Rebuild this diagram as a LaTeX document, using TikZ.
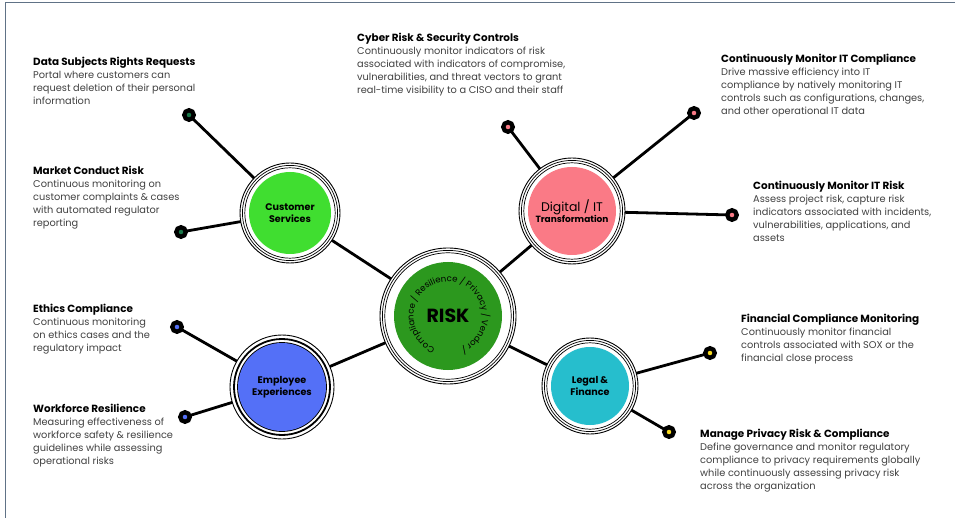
\documentclass[tikz,border=0pt]{standalone}
\usepackage{fontspec}
\setmainfont{Poppins}
\usepackage{tkz-graph}
\usetikzlibrary{decorations.text}

\definecolor{riskgreen}{RGB}{44,152,30}
\definecolor{custgreen}{RGB}{64,222,48}
\definecolor{itpink}{RGB}{250,122,134}
\definecolor{emplblue}{RGB}{84,112,247}
\definecolor{legalteal}{RGB}{38,190,205}
\definecolor{dotgreen}{RGB}{24,118,72}
\definecolor{dotyellow}{RGB}{248,218,30}
\definecolor{bodygray}{RGB}{64,64,64}
\definecolor{framecol}{RGB}{96,114,134}

\newcommand\infohead[1]{{\bfseries\fontsize{10.4}{13}\selectfont\color{black}#1}}

\begin{document}
\begin{tikzpicture}[x=1pt,y=-1pt]
\useasboundingbox (0,0) rectangle (955,518);
\draw[framecol, line width=0.8pt] (5,518) -- (5,2) -- (955,2);

\SetUpEdge[lw=2.8pt,color=black]
\tikzset{ringw/.initial=0.7pt,
	ringgap/.initial=2.4pt,
	VertexStyle/.style =
	{shape = circle,
		inner sep = 0pt,
		text = black},
	hub/.style n args={3}{fill=white, draw=black, line width=0.9pt,
		minimum size=2*#2pt, align=center,
		font=\bfseries\fontsize{9.6}{11.5}\selectfont,
		path picture={
			\draw[line width=\pgfkeysvalueof{/tikz/ringw}] (path picture bounding box.center)
				circle[radius=#2pt-\pgfkeysvalueof{/tikz/ringgap}];
			\draw[line width=\pgfkeysvalueof{/tikz/ringw}] (path picture bounding box.center)
				circle[radius=#2pt-2*\pgfkeysvalueof{/tikz/ringgap}];
			\fill[#1] (path picture bounding box.center) circle[radius=#3pt];}},
	dot/.style={fill=#1, draw=black, line width=4.3pt, minimum size=9.5pt},
	info/.style={anchor=north west, align=left, inner sep=0pt,
		font=\fontsize{9.8}{13}\selectfont, text=bodygray}}
\tikzset{EdgeStyle/.style={line width=2.8pt, black}}

% hubs
\Vertex[x=448,y=316,L={\fontsize{19}{20}\selectfont RISK},style={hub={riskgreen}{68}{54}}]{Risk}
\Vertex[x=290,y=213,L={Customer\\Services},style={hub={custgreen}{50}{41}}]{Cust}
\Vertex[x=572,y=211,L={{\mdseries\fontsize{12.5}{14}\selectfont Digital / IT}\\{\fontsize{9}{11}\selectfont Transformation}},style={hub={itpink}{53}{44}}]{Digi}
\Vertex[x=282,y=387,L={Employee\\Experiences},style={line width=1.8pt, ringw=1.8pt, ringgap=4pt, hub={emplblue}{52}{44}}]{Empl}
\Vertex[x=590,y=386,L={Legal \&\\Finance},style={hub={legalteal}{48}{39}}]{Legal}

% dots
\Vertex[x=189,y=115,NoLabel,style={dot=dotgreen}]{dsrDot}
\Vertex[x=181,y=232,NoLabel,style={dot=dotgreen}]{mcrDot}
\Vertex[x=508,y=127,NoLabel,style={dot=itpink}]{cyberDot}
\Vertex[x=694,y=113,NoLabel,style={dot=itpink}]{itcDot}
\Vertex[x=732,y=215,NoLabel,style={dot=itpink}]{itrDot}
\Vertex[x=177,y=327,NoLabel,style={dot=emplblue}]{ethDot}
\Vertex[x=185,y=417,NoLabel,style={dot=emplblue}]{wfDot}
\Vertex[x=710,y=353,NoLabel,style={dot=dotyellow}]{finDot}
\Vertex[x=669,y=432,NoLabel,style={dot=dotyellow}]{privDot}

\Edges(Risk,Cust,dsrDot)
\Edges(Cust,mcrDot)
\Edges(Risk,Digi,cyberDot)
\Edges(Digi,itcDot)
\Edges(Digi,itrDot)
\Edges(Risk,Empl,ethDot)
\Edges(Empl,wfDot)
\Edges(Risk,Legal,finDot)
\Edges(Legal,privDot)

\path[decorate, decoration={text along path, text align=center,
	text={|\fontsize{8.6}{9}\selectfont|Compliance / Resilience / Privacy / Vendor /}}]
	([shift={(262:34.5pt)}]Risk.center) arc[start angle=262, end angle=-82, radius=34.5pt];

% text blocks
\node[info] (dsr) at (33,57) {\infohead{Data Subjects Rights Requests}\\Portal where customers can\\request deletion of their personal\\information};
\node[info] (mcr) at (33,166) {\infohead{Market Conduct Risk}\\Continuous monitoring on\\customer complaints \& cases\\with automated regulator\\reporting};
\node[info] (cyber) at (357,33) {\infohead{Cyber Risk \& Security Controls}\\Continuously monitor indicators of risk\\associated with indicators of compromise,\\vulnerabilities, and threat vectors to grant\\real-time visibility to a CISO and their staff};
\node[info] (itc) at (721,54) {\infohead{Continuously Monitor IT Compliance}\\Drive massive efficiency into IT\\compliance by natively monitoring IT\\controls such as configurations, changes,\\and other operational IT data};
\node[info] (itr) at (753,181) {\infohead{Continuously Monitor IT Risk}\\Assess project risk, capture risk\\indicators associated with incidents,\\vulnerabilities, applications, and\\assets};
\node[info] (eth) at (33,304) {\infohead{Ethics Compliance}\\Continuous monitoring\\on ethics cases and the\\regulatory impact};
\node[info] (wf) at (33,404) {\infohead{Workforce Resilience}\\Measuring effectiveness of\\workforce safety \& resilience\\guidelines while assessing\\operational risks};
\node[info] (fin) at (741,314) {\infohead{Financial Compliance Monitoring}\\Continuously monitor financial\\controls associated with SOX or the\\financial close process};
\node[info] (priv) at (700,429) {\infohead{Manage Privacy Risk \& Compliance}\\Define governance and monitor regulatory\\compliance to privacy requirements globally\\while continuously assessing privacy risk\\across the organization};
\end{tikzpicture}
\end{document}
